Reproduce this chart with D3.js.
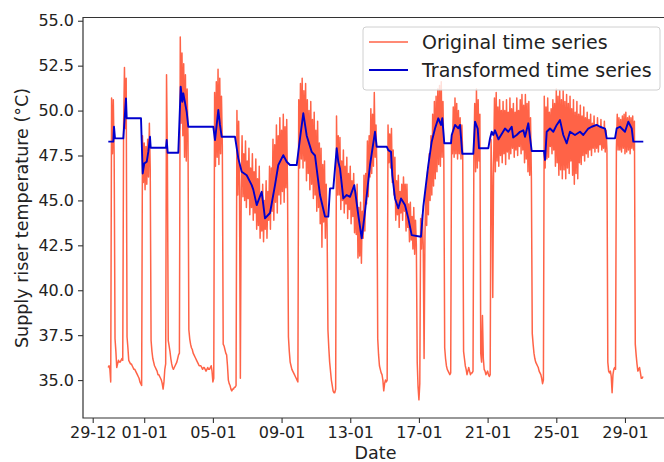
<!DOCTYPE html>
<html>
<head>
<meta charset="utf-8">
<script src="https://cdn.jsdelivr.net/npm/d3@7"></script>
<style>
  body { margin: 0; background: #fff; }
  text { font-family: "DejaVu Sans", sans-serif; fill: #222; }
</style>
</head>
<body>
<svg id="chart" width="664" height="462"></svg>
<script>
// Time axis: days counted from 29-12
const startDate = Date.UTC(2022, 11, 29);
const dayMs = 864e5;

// Original series, sampled every 0.05 day starting at day 0.9
const originalStartDay = 0.9;
const sampleStepDays = 0.05;
const originalTemps = [
  35.7, 35.8, 35.6, 34.9,
  50.7, 47.6, 50.6, 47.5,
  37.3, 36.6, 35.7, 35.9, 36.1, 36.0, 36.0, 36.1, 36.2, 36.1,
  49.2, 52.4, 49.0, 51.8,
  37.4, 36.8, 36.1, 36.0, 35.9, 35.9, 35.8, 35.7, 35.6, 35.6, 35.5, 35.4, 35.3, 35.2, 35.1, 34.9, 34.8, 34.7,
  48.6, 46.0, 48.2, 45.6, 48.0, 45.9, 48.4, 46.3, 49.3, 46.8,
  37.2, 36.6, 36.2, 36.0, 35.8, 35.7, 35.6, 35.5, 35.3, 35.3, 35.2, 35.1, 35.0, 34.8, 34.5, 34.9, 35.6, 35.9,
  52.0, 47.5,
  37.2, 36.9, 36.6, 36.2, 35.9, 35.7, 35.6, 35.7, 35.8, 35.9, 36.0, 36.2, 36.4, 36.5,
  54.1, 49.3, 53.2, 48.6, 52.6, 47.4, 52.0, 47.2, 51.2, 48.6,
  37.8, 37.3, 37.0, 36.8, 36.7, 36.5, 36.4, 36.3, 36.2, 36.1,
  36.0, 35.9, 35.8, 35.8, 35.8, 35.7, 35.6, 35.7, 35.7, 35.6,
  35.5, 35.6, 35.7, 35.6, 35.6, 35.7, 35.8, 35.5, 34.9, 35.1,
  51.0, 46.9, 51.6, 47.4, 52.3, 47.0, 51.8, 47.6, 50.8, 48.0,
  37.0, 36.9, 36.7, 36.5, 36.4, 35.8, 35.0, 34.8, 34.7, 34.5, 34.4, 34.5, 34.5, 34.6, 34.6, 34.7,
  50.0, 45.3, 49.4, 45.5, 35.1, 45.6, 48.6, 45.2, 47.6, 45.0,
  48.3, 44.6, 47.2, 45.1, 47.9, 44.2, 46.8, 44.6, 47.6, 43.9,
  46.6, 44.3, 47.3, 43.4, 46.2, 43.6, 46.9, 42.9, 45.4, 43.3,
  45.9, 42.7, 45.0, 43.4, 46.1, 42.9, 45.5, 43.9, 46.9, 43.4,
  46.8, 44.4, 48.4, 43.9, 48.1, 44.9, 49.2, 44.3, 48.6, 45.3,
  49.6, 44.8, 48.9, 45.5, 49.8, 44.9, 49.1, 45.7, 49.5, 45.2,
  37.4, 36.6, 36.0, 35.8, 35.6, 35.5, 35.4, 35.3, 35.2, 35.1, 35.0, 34.9,
  50.6, 46.8, 51.5, 47.3, 51.8, 46.8, 51.1, 47.2, 51.5, 46.1,
  50.6, 46.5, 50.0, 45.6, 50.5, 45.9, 49.5, 45.1, 49.9, 45.3,
  48.9, 44.4, 49.4, 44.6, 48.2, 43.7, 47.9, 42.4, 47.0, 43.8,
  47.2, 42.9, 45.9, 43.6,
  37.8, 36.8, 36.0, 35.5, 35.0, 34.7, 34.4, 34.3, 34.3, 34.5,
  49.7, 45.3, 48.6, 45.3, 48.5, 44.5, 47.2, 45.0, 47.8, 44.3,
  46.9, 44.8, 47.4, 44.0, 46.5, 44.5, 46.9, 43.7, 46.1, 44.1,
  46.5, 43.2, 45.5, 43.1, 45.9, 41.8, 44.6, 41.9, 44.9, 41.5,
  44.4, 42.9, 46.4, 43.3, 46.5, 44.8, 48.3, 45.2, 48.6, 46.3,
  50.1, 46.5, 49.8, 46.9, 51.0, 47.4, 49.2, 46.8,
  37.3, 36.4, 35.8, 35.6, 35.4, 35.3, 35.0, 34.4, 34.8, 35.0, 34.9, 35.0,
  49.2, 47.1, 48.7, 46.8, 49.0, 46.0, 47.8, 45.3, 47.4, 43.9,
  46.1, 44.2, 46.4, 43.5, 45.5, 44.3, 45.9, 43.9, 46.3, 44.4,
  45.9, 43.3, 45.9, 43.5, 44.8, 42.7, 44.9, 42.8, 44.1, 42.3,
  44.6, 42.0, 43.9, 42.5,
  36.0, 34.6, 33.9, 34.8,
  44.0, 42.3, 44.2, 42.5, 36.2, 43.0, 45.8, 43.6, 46.6, 44.2,
  47.6, 45.0, 48.6, 45.3, 49.8, 45.8, 50.5, 46.2, 50.8, 46.6,
  51.2, 47.0, 51.4, 46.9, 51.6, 47.4, 50.5, 47.3,
  36.8, 36.2, 35.8, 35.6, 35.5, 35.4, 35.3, 35.4,
  48.4, 47.6, 50.2, 47.4, 50.7, 47.6, 50.4, 47.3, 50.0, 47.6, 49.6, 47.3, 49.2, 47.5,
  36.6, 36.2, 35.8, 35.6, 35.3, 35.5, 35.7, 35.5, 35.3, 35.4, 35.4, 35.5,
  47.6, 50.4, 46.6, 51.2, 46.8, 50.6, 47.2, 49.8,
  36.5, 36.0, 38.6, 36.2, 35.6, 35.5, 35.3, 35.4, 35.5, 35.3, 35.2, 35.3,
  48.4, 46.3, 39.6, 47.0, 50.7, 46.6, 51.0, 47.2, 50.2, 46.9,
  50.6, 47.5, 50.0, 47.1, 50.5, 47.6, 50.0, 47.0, 50.6, 47.7,
  49.9, 47.3, 50.7, 47.6, 50.1, 47.9, 50.4, 47.4, 49.9, 47.8,
  50.7, 47.5, 50.0, 48.0, 50.6, 47.6, 50.9, 47.8, 50.3, 47.1,
  50.9, 47.3, 50.4, 46.6, 50.5, 46.4, 49.6, 46.2,
  37.6, 37.0, 36.5, 36.2, 36.0, 35.9, 35.8, 35.7, 35.5, 35.4, 35.3, 35.1, 34.8, 35.0,
  50.8, 46.8, 50.2, 47.3, 50.7, 47.4, 49.9, 48.0, 50.1, 47.6,
  50.6, 47.8, 50.4, 46.9, 51.2, 47.1, 50.8, 46.4, 51.1, 46.7,
  50.6, 46.2, 51.1, 46.7, 50.5, 46.2, 50.9, 46.8, 50.4, 46.5,
  50.8, 47.2, 50.1, 46.4, 50.6, 45.9, 49.9, 46.5, 50.5, 46.2,
  49.8, 47.1, 50.3, 47.0, 49.7, 47.5, 50.2, 47.2, 49.6, 47.6,
  49.9, 47.4, 49.5, 47.8, 49.8, 47.5, 49.3, 47.9, 49.7, 47.7,
  49.2, 47.9, 49.6, 47.7, 49.1, 48.1, 49.5, 47.8, 49.0, 47.9,
  49.4, 47.7, 48.9, 47.8,
  36.0, 35.5, 35.4, 35.5, 35.2, 34.3, 35.3, 35.6, 35.7, 35.6,
  47.9, 49.8, 47.8, 49.6, 47.8, 49.5, 47.7, 49.7, 47.9, 49.8,
  47.6, 49.9, 47.7, 49.6, 47.8, 49.7, 47.6, 49.6, 47.9, 49.7, 47.8, 49.4,
  37.0, 36.4, 35.9, 35.5, 35.6, 35.7, 35.4, 35.1, 35.1, 35.2
];

// Transformed series as [day, temperature]
const transformedPoints = [
  [0.909, 48.27], [1.200, 48.27], [1.241, 49.10], [1.299, 48.45], [1.782, 48.45],
  [1.939, 50.68], [1.980, 49.57], [2.813, 49.57], [2.912, 46.50], [3.005, 47.06],
  [3.145, 47.15], [3.238, 47.70], [3.337, 48.54], [3.378, 47.93], [4.269, 47.93],
  [4.310, 48.36], [4.368, 47.65], [4.985, 47.65], [5.125, 51.33], [5.218, 50.49],
  [5.277, 50.96], [5.475, 49.93], [5.568, 49.10], [7.024, 49.10], [7.123, 48.36],
  [7.315, 50.03], [7.414, 49.20], [7.513, 48.54], [8.288, 48.54], [8.480, 47.34],
  [8.678, 46.60], [8.969, 46.40], [9.260, 45.85], [9.353, 45.60], [9.552, 44.74],
  [9.843, 45.48], [10.035, 44.00], [10.326, 44.30], [10.617, 45.85], [10.810, 46.97],
  [11.101, 47.52], [11.299, 47.15], [11.491, 46.97], [11.881, 46.97], [12.073, 48.45],
  [12.266, 49.85], [12.464, 48.60], [12.755, 47.70], [12.947, 47.50], [13.238, 45.30],
  [13.529, 44.10], [13.721, 44.10], [13.821, 45.67], [14.013, 45.67], [14.211, 47.90],
  [14.304, 47.15], [14.403, 46.78], [14.595, 45.11], [14.793, 45.30], [14.985, 45.20],
  [15.236, 45.85], [15.469, 44.18], [15.667, 42.89], [15.859, 44.37], [16.150, 46.97],
  [16.441, 48.82], [16.540, 47.99], [17.123, 47.99], [17.216, 47.80], [17.373, 47.70],
  [17.449, 46.40], [17.606, 45.11], [17.799, 44.56], [17.956, 45.11], [18.189, 44.74],
  [18.381, 44.00], [18.579, 43.07], [19.121, 42.98], [19.255, 44.65], [19.546, 46.97],
  [19.744, 48.27], [19.936, 49.00], [20.128, 49.57], [20.285, 49.20], [20.361, 49.57],
  [20.478, 48.18], [20.868, 48.18], [20.909, 48.64], [21.101, 49.20], [21.293, 49.01],
  [21.392, 49.20], [21.526, 47.60], [22.167, 47.60], [22.266, 49.38], [22.423, 49.00],
  [22.499, 47.90], [23.040, 47.90], [23.139, 48.45], [23.238, 48.82], [23.332, 48.64],
  [23.430, 48.90], [23.634, 48.40], [23.820, 48.70], [24.013, 49.00], [24.205, 48.82],
  [24.403, 49.10], [24.490, 48.50], [24.694, 48.64], [24.886, 48.82], [25.081, 48.90],
  [25.178, 48.54], [25.370, 49.29], [25.568, 47.75], [26.285, 47.75], [26.343, 47.25],
  [26.442, 48.82], [26.634, 49.00], [26.826, 48.82], [27.024, 49.20], [27.216, 49.47],
  [27.408, 48.64], [27.606, 48.18], [27.798, 48.82], [28.090, 48.64], [28.381, 48.82],
  [28.573, 48.64], [28.864, 49.00], [29.062, 49.10], [29.353, 49.20], [29.546, 49.10],
  [29.837, 49.00], [29.936, 48.45], [30.419, 48.45], [30.518, 49.01], [30.710, 49.10],
  [31.001, 48.82], [31.194, 49.38], [31.392, 49.01], [31.485, 48.27], [32.067, 48.27]
];

const seriesNames = ["Original time series", "Transformed time series"];
const seriesColors = ["tomato", "#0000cd"];
const xTickDays = [0, 3, 7, 11, 15, 19, 23, 27, 31];
const yTicks = [35, 37.5, 40, 42.5, 45, 47.5, 50, 52.5, 55];
const xDomainDays = [-0.565, 33.506];
const yDomain = [32.89, 55.18];

const toDate = d => new Date(startDate + d * dayMs);

const svg = d3.select('#chart');
const x = d3.scaleUtc().domain(xDomainDays.map(toDate)).range([83, 668]);
const y = d3.scaleLinear().domain(yDomain).range([418, 17.5]);

const original = originalTemps.map((v, i) => ({
  date: toDate(originalStartDay + i * sampleStepDays), value: v
}));
const transformed = transformedPoints.map(([d, v]) => ({ date: toDate(d), value: v }));

const line = d3.line().x(d => x(d.date)).y(d => y(d.value));

const plot = svg.append('g');
plot.append('clipPath').attr('id', 'clip')
  .append('rect').attr('x', 83).attr('y', 17.5).attr('width', 585).attr('height', 400.5);

plot.append('path')
  .datum(original)
  .attr('d', line)
  .attr('fill', 'none')
  .attr('stroke', seriesColors[0])
  .attr('stroke-width', 1.5)
  .attr('stroke-linejoin', 'round')
  .attr('clip-path', 'url(#clip)');

plot.append('path')
  .datum(transformed)
  .attr('d', line)
  .attr('fill', 'none')
  .attr('stroke', seriesColors[1])
  .attr('stroke-width', 1.9)
  .attr('stroke-linejoin', 'round')
  .attr('clip-path', 'url(#clip)');

// Axes
const xAxis = d3.axisBottom(x)
  .tickValues(xTickDays.map(toDate))
  .tickFormat(d3.utcFormat('%d-%m'))
  .tickSizeOuter(0).tickSize(5).tickPadding(4);
const yAxis = d3.axisLeft(y)
  .tickValues(yTicks)
  .tickFormat(d3.format('.1f'))
  .tickSizeOuter(0).tickSize(5).tickPadding(4);

const gx = svg.append('g').attr('transform', 'translate(0,418)').call(xAxis);
const gy = svg.append('g').attr('transform', 'translate(83,0)').call(yAxis);
[gx, gy].forEach(g => {
  g.select('.domain').remove();
  g.selectAll('line').attr('stroke', '#333').attr('stroke-width', 1.1);
  g.selectAll('text').attr('font-size', 16).attr('fill', '#222')
    .style('font-family', '"DejaVu Sans", sans-serif');
});

// Spines (right spine falls outside the picture)
svg.append('path')
  .attr('d', `M${x.range()[1]},17.5H83V418H${x.range()[1]}`)
  .attr('fill', 'none').attr('stroke', '#333').attr('stroke-width', 1.2);

// Axis labels
svg.append('text')
  .attr('x', 375.5).attr('y', 459)
  .attr('text-anchor', 'middle').attr('font-size', 17.5)
  .text('Date');
svg.append('text')
  .attr('transform', 'translate(28,218) rotate(-90)')
  .attr('text-anchor', 'middle').attr('font-size', 17.5)
  .text('Supply riser temperature (°C)');

// Legend
const legend = svg.append('g');
legend.append('rect')
  .attr('x', 363).attr('y', 27).attr('width', 297).attr('height', 63).attr('rx', 3)
  .attr('fill', 'white').attr('fill-opacity', 0.8)
  .attr('stroke', '#d0d0d0').attr('stroke-width', 1);
seriesNames.forEach((name, i) => {
  const ly = 42 + i * 28;
  legend.append('line')
    .attr('x1', 369).attr('x2', 408).attr('y1', ly).attr('y2', ly)
    .attr('stroke', seriesColors[i]).attr('stroke-width', i === 0 ? 1.5 : 1.9);
  legend.append('text')
    .attr('x', 422).attr('y', ly + 6.5)
    .attr('font-size', 19)
    .text(name);
});
</script>
</body>
</html>
